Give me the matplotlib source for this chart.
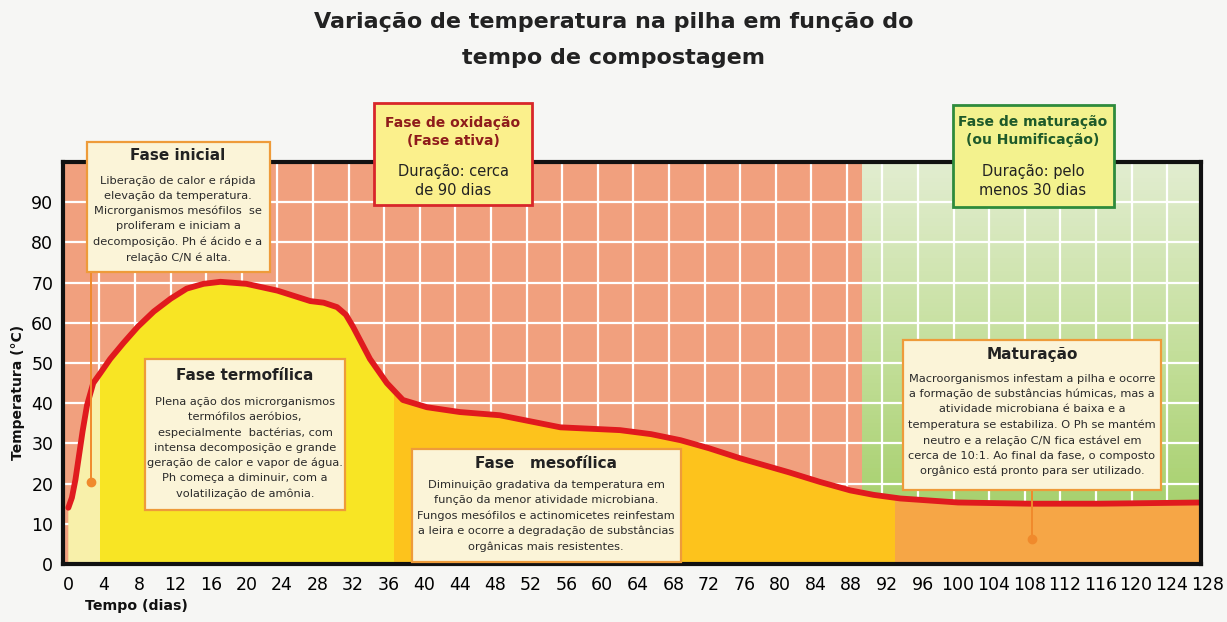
import numpy as np
import matplotlib
matplotlib.use('Agg')
import matplotlib.pyplot as plt
from matplotlib.patches import Rectangle
from matplotlib.colors import LinearSegmentedColormap

# curva de temperatura (dias, °C)
dias = [0, 0.4, 0.8, 1.2, 1.6, 2.1, 2.8, 3.6, 4.7, 6.2, 7.8, 9.6, 11.5, 13.3, 15.2, 17.1, 20, 23.5,
        27.2, 28.7, 30.2, 31.2, 32, 33.9, 35.8, 37.6, 40.3, 44, 48.5, 55.3, 62, 65.5, 68.8, 72,
        75.5, 81, 84.5, 87.9, 90.5, 93.5, 100, 108, 116, 127.3]
temperatura = [14, 16.5, 21, 27, 33, 39.5, 45, 47.5, 51, 55, 59, 62.8, 66, 68.5, 69.7, 70.2, 69.7, 68,
               65.4, 65, 63.9, 62, 59, 51, 45, 40.8, 39, 37.8, 37, 34, 33.3, 32.3, 30.8, 28.8,
               26.3, 22.8, 20.4, 18.3, 17.2, 16.3, 15.3, 15, 15, 15.3]

# fases sob a curva (início/fim em dias) e cores
fase_inicio = [0, 3.6, 36.6, 92.9]
fase_fim = [3.6, 36.6, 92.9, 127.3]
fase_cor = ['#F8F0AA', '#F8E524', '#FDC31C', '#F6A646']

# fundo: fase de oxidação até ~89 dias, depois maturação
fim_oxidacao = 89.2

x_ticks = list(range(0, 129, 4))
y_ticks = list(range(0, 91, 10))

W, H = 1227, 622
fig = plt.figure(figsize=(W / 100, H / 100), dpi=100)
fig.patch.set_facecolor('#F6F6F4')
ax = fig.add_axes([63 / W, 1 - 564 / H, (1201 - 63) / W, (564 - 162) / H])

# fundos
ax.axvspan(-1, fim_oxidacao, color='#F1A07E', zorder=0.1, lw=0)
verde = LinearSegmentedColormap.from_list('verde', ['#9DCB5E', '#C2DE98', '#E2EDD0'])
ax.imshow(np.linspace(0, 1, 100).reshape(-1, 1), cmap=verde, origin='lower',
          extent=[fim_oxidacao, 130, 0, 100], aspect='auto', zorder=0.2)

# preenchimento sob a curva por fase, recortado pela curva
area = ax.fill_between(dias, temperatura, 0, color=fase_cor[1], lw=0, zorder=1.5)
clip = area.get_paths()[0]
for a, b, c in zip(fase_inicio, fase_fim, fase_cor):
    r = ax.axvspan(a, b + 0.3, color=c, lw=0, zorder=1.6)
    r.set_clip_path(clip, ax.transData)

ax.plot(dias, temperatura, color='#E01A1E', lw=4.2, solid_capstyle='round',
        solid_joinstyle='round', zorder=3)

# grade branca
ax.set_xticks(x_ticks[:-1])
ax.set_xticks(np.arange(3.5, 128, 4), minor=True)
ax.set_yticks(y_ticks)
ax.set_axisbelow(True)
ax.grid(which='minor', axis='x', color='white', lw=1.6)
ax.grid(which='major', axis='y', color='white', lw=1.6)
ax.set_xlim(-0.6, 127.3)
ax.set_ylim(0, 100)
ax.tick_params(which='both', length=0, labelsize=12.5)
ax.tick_params(axis='x', pad=9)
ax.tick_params(axis='y', pad=7)
ax.annotate('128', xy=(128, 0), xycoords=('data', 'axes fraction'), xytext=(0, -9),
            textcoords='offset points', ha='center', va='top', fontsize=12.5, annotation_clip=False)
for s in ax.spines.values():
    s.set_linewidth(3)
    s.set_color('#111111')
    s.set_zorder(4)

# ligações das caixas
ax.plot([2.6, 2.6], [20.3, 73], color='#F08A2C', lw=1.4, zorder=3.5)
ax.plot([2.6], [20.3], 'o', color='#F08A2C', ms=6, zorder=3.6)
ax.plot([108.3, 108.3], [6.3, 18.5], color='#F08A2C', lw=1.4, zorder=3.5)
ax.plot([108.3], [6.3], 'o', color='#F08A2C', ms=6, zorder=3.6)


def caixa(x0, y0, x1, y1, face, borda, lw=1.6):
    fig.add_artist(Rectangle((x0 / W, 1 - y1 / H), (x1 - x0) / W, (y1 - y0) / H,
                             transform=fig.transFigure, facecolor=face, edgecolor=borda,
                             lw=lw, zorder=5))


def texto(xc, y, s, **kw):
    kw.setdefault('ha', 'center')
    kw.setdefault('va', 'center')
    fig.text(xc / W, 1 - y / H, s, zorder=6, **kw)


creme = '#FBF4D8'
laranja = '#EE9B3A'
corpo = dict(fontsize=8.2, linespacing=1.62, color='#2A2A2A')

caixa(87, 142, 270, 272, creme, laranja)
texto(178, 156, 'Fase inicial', fontsize=11, fontweight='bold', color='#222222')
texto(178, 219, 'Liberação de calor e rápida\nelevação da temperatura.\nMicrorganismos mesófilos  se\n'
      'proliferam e iniciam a\ndecomposição. Ph é ácido e a\nrelação C/N é alta.', **corpo)

caixa(374, 103, 532, 205, '#FBF08C', '#D8262A', lw=2)
texto(453, 132, 'Fase de oxidação\n(Fase ativa)', fontsize=10, fontweight='bold',
      color='#8E1B1B', linespacing=1.35)
texto(453, 181, 'Duração: cerca\nde 90 dias', fontsize=10.5, color='#222222', linespacing=1.3)

caixa(953, 105, 1114, 207, '#F3F28E', '#2E8B3C', lw=2)
texto(1033, 131, 'Fase de maturação\n(ou Humificação)', fontsize=10, fontweight='bold',
      color='#1E5A2A', linespacing=1.35)
texto(1033, 181, 'Duração: pelo\nmenos 30 dias', fontsize=10.5, color='#222222', linespacing=1.3)

caixa(145, 359, 345, 510, creme, laranja)
texto(245, 376, 'Fase termofílica', fontsize=11, fontweight='bold', color='#222222')
texto(245, 448, 'Plena ação dos microrganismos\ntermófilos aeróbios,\nespecialmente  bactérias, com\n'
      'intensa decomposição e grande\ngeração de calor e vapor de água.\n'
      'Ph começa a diminuir, com a\nvolatilização de amônia.', **corpo)

caixa(412, 449, 681, 562, creme, laranja)
texto(546, 463, 'Fase   mesofílica', fontsize=11, fontweight='bold', color='#222222')
texto(546, 516, 'Diminuição gradativa da temperatura em\nfunção da menor atividade microbiana.\n'
      'Fungos mesófilos e actinomicetes reinfestam\na leira e ocorre a degradação de substâncias\n'
      'orgânicas mais resistentes.', **corpo)

caixa(903, 340, 1161, 490, creme, laranja)
texto(1032, 354, 'Maturação', fontsize=11, fontweight='bold', color='#222222')
texto(1032, 425, 'Macroorganismos infestam a pilha e ocorre\na formação de substâncias húmicas, mas a\n'
      'atividade microbiana é baixa e a\ntemperatura se estabiliza. O Ph se mantém\n'
      'neutro e a relação C/N fica estável em\ncerca de 10:1. Ao final da fase, o composto\n'
      'orgânico está pronto para ser utilizado.', **corpo)

# títulos
texto(614, 22, 'Variação de temperatura na pilha em função do', fontsize=16,
      fontweight='bold', color='#222222')
texto(614, 58, 'tempo de compostagem', fontsize=16, fontweight='bold', color='#222222')
texto(18, 392, 'Temperatura (°C)', fontsize=10, fontweight='bold', rotation=90, color='#111111')
texto(85, 606, 'Tempo (dias)', fontsize=10.2, fontweight='bold', ha='left', color='#111111')

fig.savefig('out.png', dpi=100, facecolor=fig.get_facecolor())
